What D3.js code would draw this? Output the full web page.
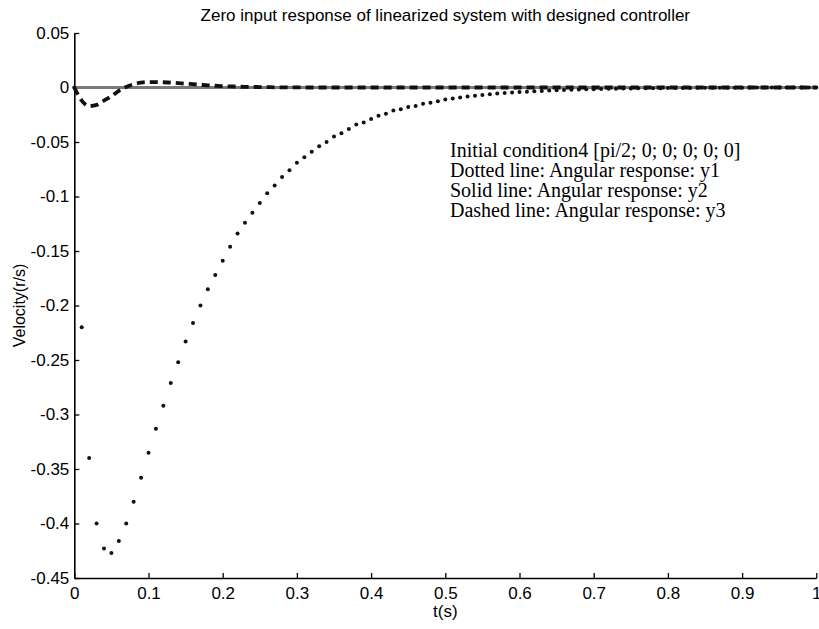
<!DOCTYPE html>
<html>
<head>
<meta charset="UTF-8">
<title>Zero input response</title>
<style>
  body { margin: 0; background: #fff; }
  svg text { fill: #000; }
</style>
</head>
<body>
<svg id="chart" width="819" height="629"></svg>
<script src="https://d3js.org/d3.v7.min.js"></script>
<script>
// time grid (s)
const tValues = d3.range(0, 101).map(i => i / 100);

// dotted line: angular response y1
const y1 = [
  0, -0.220, -0.340, -0.400, -0.423, -0.427, -0.416, -0.400, -0.380, -0.358,
  -0.335, -0.313, -0.292, -0.271, -0.252, -0.233, -0.216, -0.200, -0.185, -0.172,
  -0.159, -0.146, -0.134, -0.124, -0.115, -0.106, -0.097, -0.090, -0.082, -0.076,
  -0.069, -0.064, -0.059, -0.054, -0.050, -0.045, -0.042, -0.038, -0.034, -0.032,
  -0.029, -0.026, -0.024, -0.021, -0.020, -0.018, -0.017, -0.015, -0.014, -0.0125,
  -0.0110, -0.0100, -0.0091, -0.0083, -0.0075, -0.0068, -0.0062, -0.0056, -0.0051, -0.0046,
  -0.0042, -0.0038, -0.0034, -0.0031, -0.0028, -0.0025, -0.0023, -0.0021, -0.0019, -0.0017,
  -0.0015, -0.0013, -0.0012, -0.0011, -0.0010, -0.0009, -0.0008, -0.0007, -0.0006, -0.0006,
  -0.0005, -0.0005, -0.0004, -0.0004, -0.0003, -0.0003, -0.0003, -0.0002, -0.0002, -0.0002,
  -0.0002, -0.0001, -0.0001, -0.0001, -0.0001, -0.0001, -0.0001, 0, 0, 0, 0
];

// solid line: angular response y2
const y2 = [
  0, 0, 0, 0, 0, 0, 0, 0, 0, 0,
  0, 0, 0, 0, 0, 0, 0, 0, 0, 0,
  0, 0, 0, 0, 0, 0, 0, 0, 0, 0,
  0, 0, 0, 0, 0, 0, 0, 0, 0, 0,
  0, 0, 0, 0, 0, 0, 0, 0, 0, 0,
  0, 0, 0, 0, 0, 0, 0, 0, 0, 0,
  0, 0, 0, 0, 0, 0, 0, 0, 0, 0,
  0, 0, 0, 0, 0, 0, 0, 0, 0, 0,
  0, 0, 0, 0, 0, 0, 0, 0, 0, 0,
  0, 0, 0, 0, 0, 0, 0, 0, 0, 0, 0
];

// dashed line: angular response y3
const y3 = [
  0, -0.012, -0.017, -0.016, -0.012, -0.008, -0.003, 0.0005, 0.003, 0.0045,
  0.005, 0.005, 0.0048, 0.0045, 0.004, 0.0035, 0.003, 0.0025, 0.002, 0.0016,
  0.0012, 0.0010, 0.0008, 0.0006, 0.0005, 0.0004, 0.0003, 0.0002, 0.0002, 0.0001,
  0.0001, 0, 0, 0, 0, 0, 0, 0, 0, 0,
  0, 0, 0, 0, 0, 0, 0, 0, 0, 0,
  0, 0, 0, 0, 0, 0, 0, 0, 0, 0,
  0, 0, 0, 0, 0, 0, 0, 0, 0, 0,
  0, 0, 0, 0, 0, 0, 0, 0, 0, 0,
  0, 0, 0, 0, 0, 0, 0, 0, 0, 0,
  0, 0, 0, 0, 0, 0, 0, 0, 0, 0, 0
];

const xTicks = [0, 0.1, 0.2, 0.3, 0.4, 0.5, 0.6, 0.7, 0.8, 0.9, 1];
const yTicks = [0.05, 0, -0.05, -0.1, -0.15, -0.2, -0.25, -0.3, -0.35, -0.4, -0.45];

const legendLines = [
  "Initial condition4 [pi/2; 0; 0; 0; 0; 0]",
  "Dotted line: Angular response: y1",
  "Solid line: Angular response: y2",
  "Dashed line: Angular response: y3"
];

const margin = { left: 74.3, right: 2.7, top: 33, bottom: 51 };
const W = 819, H = 629;

const svg = d3.select('#chart');

const x = d3.scaleLinear().domain([0, 1]).range([margin.left, W - margin.right]);
const y = d3.scaleLinear().domain([-0.45, 0.05]).range([H - margin.bottom, margin.top]);

const sans = 'Arial, "Liberation Sans", Helvetica, sans-serif';

// axes (ticks point inward, like matlab)
const xAxis = d3.axisBottom(x).tickValues(xTicks).tickSizeInner(-5).tickSizeOuter(0)
  .tickPadding(9).tickFormat(d => d3.format('')(d));
const yAxis = d3.axisLeft(y).tickValues(yTicks).tickSizeInner(-5).tickSizeOuter(0)
  .tickPadding(5).tickFormat(d => d3.format('')(d).replace('−', '-'));

const gx = svg.append('g').attr('transform', `translate(0,${y(-0.45)})`).call(xAxis);
const gy = svg.append('g').attr('transform', `translate(${x(0)},0)`).call(yAxis);

[gx, gy].forEach(g => {
  g.select('.domain').attr('stroke', '#000').attr('stroke-width', 1.6);
  g.selectAll('.tick line').attr('stroke', '#000').attr('stroke-width', 1.3);
  g.selectAll('.tick text').attr('font-family', sans).attr('font-size', 17).attr('fill', '#000');
});

// series
const pts = k => tValues.map((t, i) => [t, k[i]]);
const line = d3.line().x(d => x(d[0])).y(d => y(d[1]));

svg.append('path')
  .datum(pts(y2))
  .attr('d', line)
  .attr('fill', 'none')
  .attr('stroke', '#7a7a7a')
  .attr('stroke-width', 3);

svg.append('path')
  .datum(pts(y3))
  .attr('d', d3.line().x(d => x(d[0])).y(d => y(d[1])).curve(d3.curveMonotoneX))
  .attr('fill', 'none')
  .attr('stroke', '#111')
  .attr('stroke-width', 3.8)
  .attr('stroke-dasharray', '8,5');

svg.append('g')
  .selectAll('circle')
  .data(pts(y1))
  .join('circle')
  .attr('cx', d => x(d[0]))
  .attr('cy', d => y(d[1]))
  .attr('r', 2)
  .attr('fill', '#111');

// title & labels
svg.append('text')
  .attr('x', (x(0) + x(1)) / 2)
  .attr('y', 21)
  .attr('text-anchor', 'middle')
  .attr('font-family', sans)
  .attr('font-size', 17)
  .text('Zero input response of linearized system with designed controller');

svg.append('text')
  .attr('x', (x(0) + x(1)) / 2)
  .attr('y', 617)
  .attr('text-anchor', 'middle')
  .attr('font-family', sans)
  .attr('font-size', 17)
  .text('t(s)');

svg.append('text')
  .attr('transform', `translate(25,${(y(0.05) + y(-0.45)) / 2}) rotate(-90)`)
  .attr('text-anchor', 'middle')
  .attr('font-family', sans)
  .attr('font-size', 16)
  .text('Velocity(r/s)');

// legend text
svg.append('g')
  .selectAll('text')
  .data(legendLines)
  .join('text')
  .attr('x', 450)
  .attr('y', (d, i) => 157 + i * 20)
  .attr('font-family', '"Liberation Serif", "Times New Roman", serif')
  .attr('font-size', 20)
  .text(d => d);
</script>
</body>
</html>
